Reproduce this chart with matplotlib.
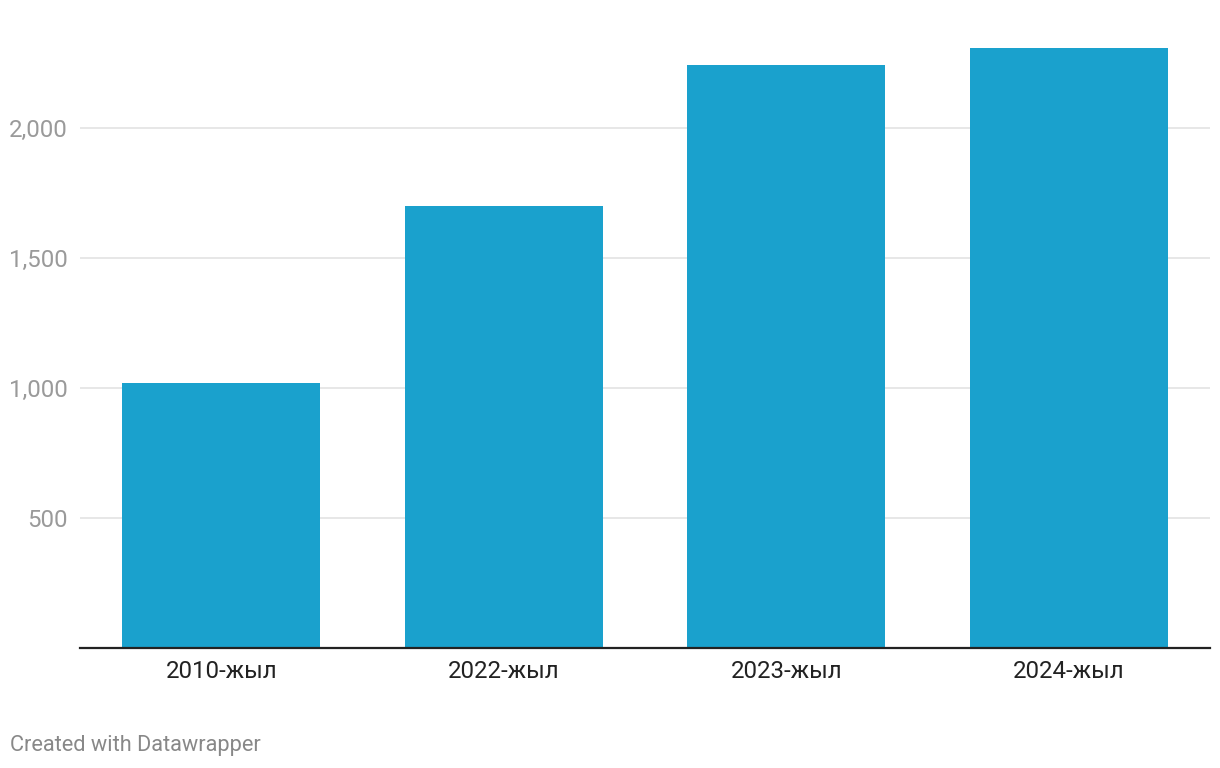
import matplotlib
matplotlib.use("Agg")
from matplotlib import pyplot as plt
from matplotlib.ticker import FixedLocator, FuncFormatter

categories = ["2010-жыл", "2022-жыл", "2023-жыл", "2024-жыл"]
values = [1020, 1700, 2242, 2308]
y_ticks = [500, 1000, 1500, 2000]

plt.rcParams["font.family"] = ["Roboto", "DejaVu Sans"]

W, H = 1220, 768
fig = plt.figure(figsize=(W / 100, H / 100), dpi=100)

# axes placed in pixel terms: x 80..1210, baseline at y=648, top at y=10
left, right, bottom, top = 80, 1210, 648, 10
ax = fig.add_axes([left / W, 1 - bottom / H, (right - left) / W, (bottom - top) / H])

px_per_unit = 130 / 500
ax.set_ylim(0, (bottom - top) / px_per_unit)

x = list(range(len(categories)))
ax.bar(x, values, width=0.70, color="#1aa1cd", zorder=2)
ax.set_xlim(-0.5, len(categories) - 0.5)

ax.yaxis.set_major_locator(FixedLocator(y_ticks))
ax.yaxis.set_major_formatter(FuncFormatter(lambda v, p: f"{int(v):,}"))
ax.grid(axis="y", color="#e5e5e5", linewidth=1.3, zorder=1)
ax.grid(axis="x", visible=False)

for s in ["top", "right", "left"]:
    ax.spines[s].set_visible(False)
ax.spines["bottom"].set_color("#222222")
ax.spines["bottom"].set_linewidth(1.6)
ax.spines["bottom"].set_zorder(3)

ax.set_xticks(x)
ax.set_xticklabels(categories)
ax.tick_params(axis="x", length=0, pad=9, labelsize=17.3, labelcolor="#222222")
ax.tick_params(axis="y", length=0, pad=9, labelsize=17.3, labelcolor="#9a9a9a")

fig.text(10 / W, 1 - 745 / H, "Created with Datawrapper", fontsize=15.7,
         color="#888888", ha="left", va="center")

fig.savefig("out.png", dpi=100)
plt.close()
